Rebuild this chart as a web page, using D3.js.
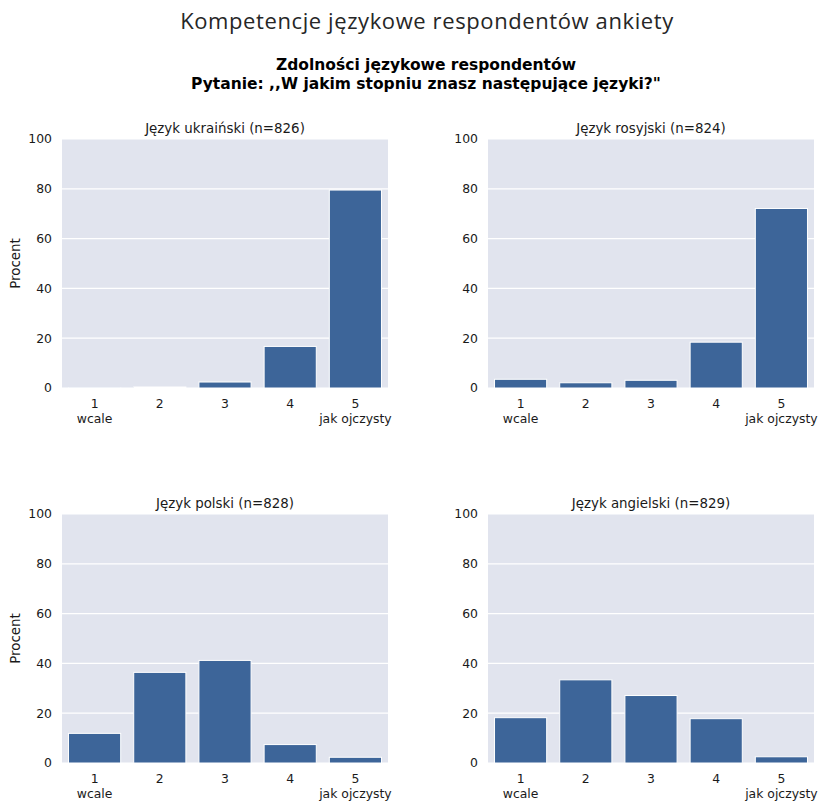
<!DOCTYPE html>
<html>
<head>
<meta charset="utf-8">
<script src="https://cdn.jsdelivr.net/npm/d3@7"></script>
<style>
  body { margin: 0; background: #fff; }
  text { font-family: "DejaVu Sans", sans-serif; fill: #1a1a1a; }
</style>
</head>
<body>
<div id="chart"></div>
<script>
// Answer scale
const levels = ["1", "2", "3", "4", "5"];
const levelNotes = ["wcale", "", "", "", "jak ojczysty"];
const yTicks = [0, 20, 40, 60, 80, 100];

// Panels (percent of respondents per level)
const panelTitles = [
  "Język ukraiński (n=826)",
  "Język rosyjski (n=824)",
  "Język polski (n=828)",
  "Język angielski (n=829)"
];
const ukrainian = [0.1, 0.4, 2.4, 16.7, 79.5];
const russian = [3.5, 2.1, 3.1, 18.4, 72.1];
const polish = [11.9, 36.4, 41.2, 7.4, 2.3];
const english = [18.2, 33.4, 27.1, 17.8, 2.5];
const panelValues = [ukrainian, russian, polish, english];

const W = 820, H = 801;
const svg = d3.select("#chart").append("svg")
  .attr("width", W).attr("height", H);

// Titles
svg.append("text")
  .attr("x", 427).attr("y", 29)
  .attr("text-anchor", "middle")
  .style("font-family", "'Open Sans', sans-serif")
  .style("font-size", "22px")
  .style("letter-spacing", "0.6px")
  .style("fill", "#262626")
  .text("Kompetencje językowe respondentów ankiety");

svg.append("text")
  .attr("x", 426).attr("y", 70)
  .attr("text-anchor", "middle")
  .style("font-size", "15.5px").style("font-weight", "bold").style("fill", "#000")
  .text("Zdolności językowe respondentów");
svg.append("text")
  .attr("x", 426).attr("y", 89)
  .attr("text-anchor", "middle")
  .style("font-size", "15.5px").style("font-weight", "bold").style("fill", "#000")
  .text("Pytanie: ,,W jakim stopniu znasz następujące języki?\"");

// Panel frames: left / top edges of each axes
const cols = [{ x0: 62, x1: 388 }, { x0: 488, x1: 814 }];
const rows = [{ y0: 139, y1: 388 }, { y0: 514, y1: 763 }];

panelValues.forEach((vals, i) => {
  const c = cols[i % 2], r = rows[Math.floor(i / 2)];
  const w = c.x1 - c.x0, h = r.y1 - r.y0;
  const g = svg.append("g").attr("transform", `translate(${c.x0},${r.y0})`);

  const x = d3.scaleBand().domain(levels).range([0, w]).paddingInner(0.2).paddingOuter(0.1);
  const y = d3.scaleLinear().domain([0, 100]).range([h, 0]);

  g.append("rect").attr("width", w).attr("height", h).attr("fill", "#e1e4ee");

  // gridlines
  g.selectAll(".grid").data(yTicks).enter().append("line")
    .attr("x1", 0).attr("x2", w)
    .attr("y1", d => y(d)).attr("y2", d => y(d))
    .attr("stroke", "#fff").attr("stroke-width", 1.2);

  // bars
  g.selectAll(".bar").data(vals).enter().append("rect")
    .attr("x", (d, j) => x(levels[j]))
    .attr("width", x.bandwidth())
    .attr("y", d => y(d))
    .attr("height", d => y(0) - y(d))
    .attr("fill", "#3d6599")
    .attr("stroke", "#fff").attr("stroke-width", 1);

  // y axis
  const ya = g.append("g").call(d3.axisLeft(y).tickValues(yTicks).tickSize(0).tickPadding(10));
  ya.select(".domain").remove();
  ya.selectAll("text").style("font-size", "12.4px").style("font-family", "'DejaVu Sans', sans-serif").attr("fill", "#1a1a1a");

  // x axis
  const xa = g.append("g").attr("transform", `translate(0,${h})`)
    .call(d3.axisBottom(x).tickSize(0).tickPadding(11));
  xa.select(".domain").remove();
  xa.selectAll("text").style("font-size", "12.4px").style("font-family", "'DejaVu Sans', sans-serif").attr("fill", "#1a1a1a");
  xa.selectAll(".tick").append("text")
    .attr("y", 35)
    .attr("text-anchor", "middle")
    .style("font-size", "12.4px")
    .text((d, j) => levelNotes[j]);

  // panel title
  g.append("text")
    .attr("x", w / 2).attr("y", -6)
    .attr("text-anchor", "middle")
    .style("font-size", "13.4px")
    .text(panelTitles[i]);

  if (i % 2 === 0) {
    g.append("text")
      .attr("transform", `translate(-42,${h / 2}) rotate(-90)`)
      .attr("text-anchor", "middle")
      .style("font-size", "13.4px")
      .text("Procent");
  }
});
</script>
</body>
</html>
